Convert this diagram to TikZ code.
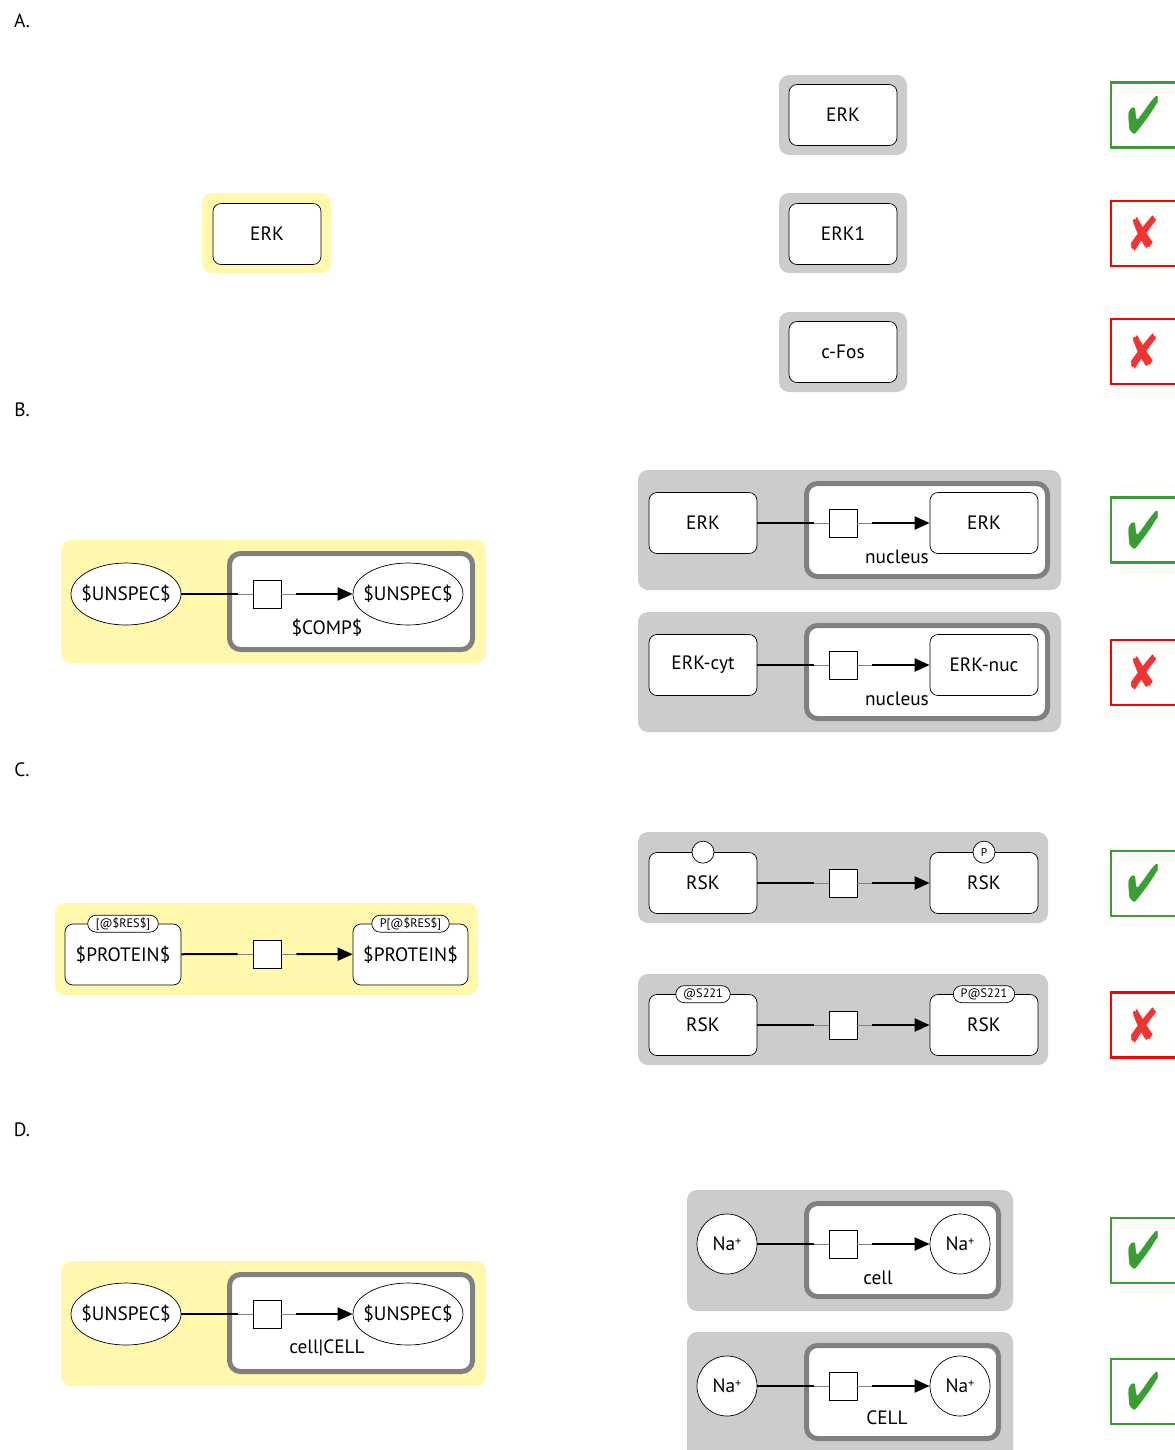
\documentclass[tikz,border=0pt]{standalone}
\usepackage{fontspec}
\setmainfont{PT Sans}
\usepackage{pifont}
\usepackage{graphicx}
\usetikzlibrary{arrows.meta,shapes.geometric,shapes.misc,positioning}
\definecolor{hilite}{RGB}{255,248,173}
\definecolor{bggray}{RGB}{204,204,204}
\definecolor{compgray}{RGB}{128,128,128}
\definecolor{okgreen}{RGB}{58,158,52}
\definecolor{badred}{RGB}{240,52,52}
% process node with its two ports
\newcommand{\process}[3]{%
  \node[proc] (#1) at (#2,#3) {};
  \coordinate (#1l) at ([xshift=-0.3cm]#1.west);
  \coordinate (#1r) at ([xshift=0.3cm]#1.east);}
% substrate -> process -> product
\newcommand{\reaction}[3]{%
  \draw[flow] (#1) -- (#2l);
  \draw[portline] (#2l) -- (#2) -- (#2r);
  \draw[prod] (#2r) -- (#3);}
\newcommand{\okmark}{\scalebox{0.72}[1]{\ding{52}}}
\newcommand{\nomark}{\scalebox{0.85}[1]{\ding{56}}}
\newcommand{\ion}{Na{\fontsize{7}{7}\selectfont\raisebox{0.9ex}{+}}}

\begin{document}
\begin{tikzpicture}[x=0.02cm,y=-0.02cm,
  every node/.style={font=\fontsize{11}{13}\selectfont},
  entity/.style={draw,fill=white,rounded corners=0.16cm,minimum width=2.16cm,minimum height=1.22cm,inner sep=0pt},
  unspec/.style={draw,fill=white,ellipse,minimum width=2.2cm,minimum height=1.24cm,inner xsep=-6pt,inner ysep=0pt},
  simple/.style={draw,fill=white,circle,minimum size=1.2cm,inner sep=0pt},
  proc/.style={draw,fill=white,minimum size=0.56cm,inner sep=0pt},
  sv/.style={draw,fill=white,circle,minimum size=0.44cm,inner sep=0pt,font=\fontsize{6.5}{7}\selectfont},
  uoi/.style={draw,fill=white,rounded rectangle,minimum height=0.34cm,inner xsep=3pt,inner ysep=0pt,font=\fontsize{7}{8}\selectfont},
  panel/.style={fill=bggray,rounded corners=0.2cm},
  rule/.style={fill=hilite,rounded corners=0.2cm},
  comp/.style={draw=compgray,fill=white,line width=0.1cm,rounded corners=0.22cm},
  flow/.style={line width=0.04cm},
  portline/.style={draw=compgray,line width=0.02cm},
  prod/.style={flow,-{Triangle[length=0.3cm,width=0.26cm]}},
  okbox/.style={draw=okgreen,line width=0.05cm,minimum size=1.3cm,inner sep=0pt,text=okgreen,font=\fontsize{30}{30}\selectfont},
  nobox/.style={draw=red,line width=0.05cm,minimum size=1.3cm,inner sep=0pt,text=badred,font=\fontsize{28}{28}\selectfont}]
  \useasboundingbox (0,0) rectangle (1175,1450);

  %% A.
  \node (labA) at (22,21) {A.};
  \fill[rule] (202,193) rectangle (331,273);
  \node[entity] (erkA) at (267,234) {ERK};
  \fill[panel] (779,75) rectangle (907,155);
  \fill[panel] (779,193) rectangle (907,273);
  \fill[panel] (779,312) rectangle (907,392);
  \node[entity] (erkA1) at (843,115) {ERK};
  \node[entity] (erkA2) at (843,234) {ERK1};
  \node[entity] (fosA3) at (843,352) {c-Fos};
  \node[okbox] (chkA1) at (1143.5,115) {\okmark};
  \node[nobox] (chkA2) at (1143.5,233.5) {\nomark};
  \node[nobox] (chkA3) at (1143.5,351.5) {\nomark};

  %% B.
  \node (labB) at (22,410) {B.};
  \fill[rule] (61,540) rectangle (486,663);
  \draw[comp] (229.5,553.5) rectangle (472.5,649.5);
  \node[unspec] (uB1) at (126,594) {\$UNSPEC\$};
  \process{pB}{267}{594}
  \node[unspec] (uB2) at (408,594) {\$UNSPEC\$};
  \node (cmpB) at (327,628) {\$COMP\$};
  \reaction{uB1}{pB}{uB2}

  \fill[panel] (638,470) rectangle (1061,590);
  \draw[comp] (806.5,483.5) rectangle (1047.5,576.5);
  \node[entity] (erkB1) at (703,523) {ERK};
  \process{pB1}{843}{523}
  \node[entity] (erkB2) at (984,523) {ERK};
  \node (nucB1) at (897,557) {nucleus};
  \reaction{erkB1}{pB1}{erkB2}

  \fill[panel] (638,612) rectangle (1061,732);
  \draw[comp] (806.5,625.5) rectangle (1047.5,718.5);
  \node[entity] (cytB) at (703,665) {ERK-cyt};
  \process{pB2}{843}{665}
  \node[entity] (nucB) at (984,665) {ERK-nuc};
  \node (nucB2) at (897,699) {nucleus};
  \reaction{cytB}{pB2}{nucB}

  \node[okbox] (chkB1) at (1143.5,530) {\okmark};
  \node[nobox] (chkB2) at (1143.5,672.5) {\nomark};

  %% C.
  \node (labC) at (22,770) {C.};
  \fill[rule] (55,903) rectangle (478,995);
  \node[entity,minimum width=2.32cm] (protC1) at (123,954.5) {\$PROTEIN\$};
  \node[uoi,minimum width=1.4cm] (resC1) at (protC1.north) {[@\$RES\$]};
  \process{pC}{267}{954}
  \node[entity,minimum width=2.3cm] (protC2) at (410.5,954.5) {\$PROTEIN\$};
  \node[uoi,minimum width=1.42cm] (resC2) at (protC2.north) {P[@\$RES\$]};
  \reaction{protC1}{pC}{protC2}

  \fill[panel] (638,832) rectangle (1048,923);
  \node[entity] (rskC1) at (703,883) {RSK};
  \node[sv] (svC1) at (rskC1.north) {};
  \process{pC1}{843}{883}
  \node[entity] (rskC2) at (984,883) {RSK};
  \node[sv] (svC2) at (rskC2.north) {P};
  \reaction{rskC1}{pC1}{rskC2}

  \fill[panel] (638,974) rectangle (1048,1065);
  \node[entity] (rskC3) at (703,1025) {RSK};
  \node[uoi,minimum width=1.04cm] (sC3) at (rskC3.north) {@S221};
  \process{pC2}{843}{1025}
  \node[entity] (rskC4) at (984,1025) {RSK};
  \node[uoi,minimum width=1.04cm] (sC4) at (rskC4.north) {P@S221};
  \reaction{rskC3}{pC2}{rskC4}

  \node[okbox] (chkC1) at (1143.5,883.5) {\okmark};
  \node[nobox] (chkC2) at (1143.5,1025) {\nomark};

  %% D.
  \node (labD) at (22,1130) {D.};
  \fill[rule] (61,1261) rectangle (486,1386);
  \draw[comp] (229.5,1274.5) rectangle (472.5,1371.5);
  \node[unspec] (uD1) at (126,1314) {\$UNSPEC\$};
  \process{pD}{267}{1314}
  \node[unspec] (uD2) at (408,1314) {\$UNSPEC\$};
  \node (cellD) at (327,1348) {cell|CELL};
  \reaction{uD1}{pD}{uD2}

  \fill[panel] (687,1190) rectangle (1013,1311);
  \draw[comp] (806.5,1203.5) rectangle (998.5,1296.5);
  \node[simple] (naD1) at (727,1244) {\ion};
  \process{pD1}{843}{1244}
  \node[simple] (naD2) at (960,1244) {\ion};
  \node (cellD1) at (878,1278) {cell};
  \reaction{naD1}{pD1}{naD2}

  \fill[panel] (687,1332) rectangle (1013,1460);
  \draw[comp] (806.5,1345.5) rectangle (998.5,1438.5);
  \node[simple] (naD3) at (727,1386) {\ion};
  \process{pD2}{843}{1386}
  \node[simple] (naD4) at (960,1386) {\ion};
  \node (cellD2) at (887,1418) {CELL};
  \reaction{naD3}{pD2}{naD4}

  \node[okbox] (chkD1) at (1143.5,1250.5) {\okmark};
  \node[okbox] (chkD2) at (1143.5,1391.5) {\okmark};
\end{tikzpicture}
\end{document}
